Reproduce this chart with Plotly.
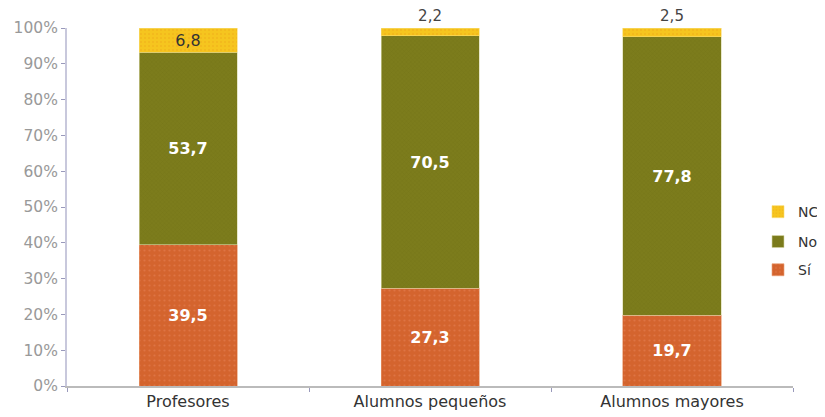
import plotly.graph_objects as go

categories = ["Profesores", "Alumnos pequeños", "Alumnos mayores"]
si = [39.5, 27.3, 19.7]
no = [53.7, 70.5, 77.8]
nc = [6.8, 2.2, 2.5]

ORANGE = "#D4642E"
OLIVE = "#7C7C1C"
YELLOW = "#F6C51F"
FONT = "Verdana, DejaVu Sans, sans-serif"


def fmt(v):
    return f"{v:.1f}".replace(".", ",")


fig = go.Figure()
fig.add_trace(go.Bar(
    x=categories, y=si, name="Sí", legend="legend3",
    marker=dict(color=ORANGE, line=dict(color="#E89A6E", width=0.6),
                pattern=dict(shape=".", size=5, solidity=0.15, fgcolor="#E8845A")),
    text=[fmt(v) for v in si], textposition="inside", insidetextanchor="middle",
    textfont=dict(color="white", size=16, family=FONT, weight="bold"),
))
fig.add_trace(go.Bar(
    x=categories, y=no, name="No", legend="legend2",
    marker=dict(color=OLIVE, line=dict(color="#D8D8A8", width=0.6),
                pattern=dict(shape="x", size=3, solidity=0.2, fgcolor="#6A6A10")),
    text=[fmt(v) for v in no], textposition="inside", insidetextanchor="middle",
    textfont=dict(color="white", size=16, family=FONT, weight="bold"),
))
fig.add_trace(go.Bar(
    x=categories, y=nc, name="NC", legend="legend",
    marker=dict(color=YELLOW, line=dict(color="#F9DC70", width=0.6),
                pattern=dict(shape=".", size=4, solidity=0.2, fgcolor="#EFA81A")),
    text=[fmt(v) for v in nc], textposition=["inside", "outside", "outside"],
    insidetextanchor="middle", cliponaxis=False,
    insidetextfont=dict(color="#333333", size=16, family=FONT),
    outsidetextfont=dict(color="#444444", size=15, family=FONT),
))
fig.update_traces(width=0.405, constraintext="none")

# the page body has an 8px margin, so the figure is sized to the visible area
leg = dict(xref="container", yref="container", xanchor="left", yanchor="middle",
           bgcolor="rgba(0,0,0,0)", itemwidth=30,
           font=dict(family=FONT, size=14, color="#333333"))
fig.update_layout(
    barmode="stack",
    width=817, height=409,
    margin=dict(l=59, r=32, t=20, b=31, autoexpand=False),
    paper_bgcolor="white", plot_bgcolor="white",
    font=dict(family=FONT),
    showlegend=True,
    legend=dict(leg, x=0.918, y=0.501),
    legend2=dict(leg, x=0.918, y=0.428),
    legend3=dict(leg, x=0.918, y=0.359),
    xaxis=dict(
        automargin=False,
        showline=True, linecolor="#BBBBBB", linewidth=2,
        ticks="outside", tickson="boundaries", tickcolor="#9999BB", ticklen=4,
        tickfont=dict(family=FONT, size=16, color="#333333"),
        showgrid=False,
    ),
    yaxis=dict(
        automargin=False,
        range=[0, 100], tickvals=list(range(0, 101, 10)),
        ticktext=[f"{v}%" for v in range(0, 101, 10)],
        showline=True, linecolor="#C8C8DC", linewidth=2,
        ticks="outside", tickcolor="#9999BB", ticklen=4,
        tickfont=dict(family=FONT, size=15.5, color="#999999"),
        showgrid=False, zeroline=False,
    ),
)

fig.write_html("out.html")
